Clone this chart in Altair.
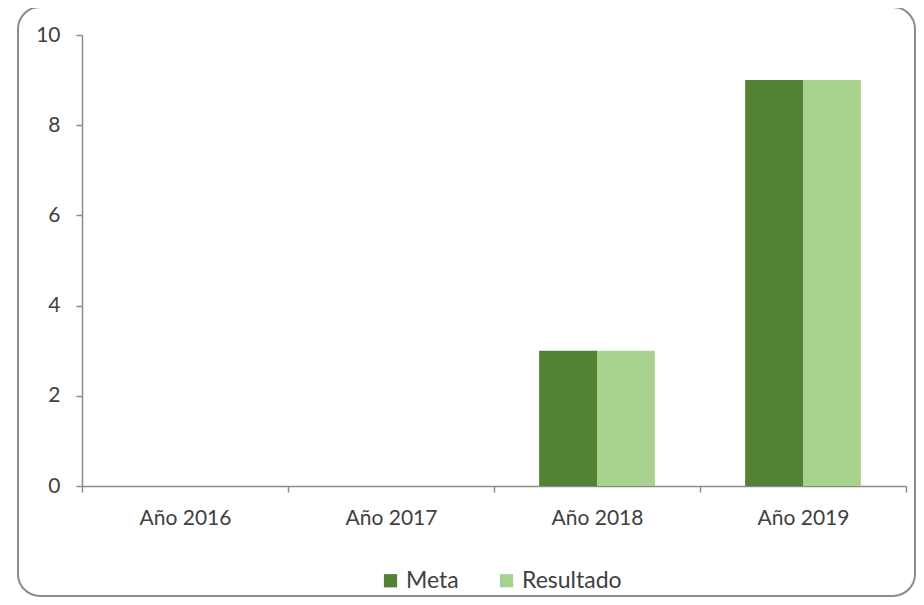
import altair as alt
import pandas as pd

years = ["Año 2016", "Año 2017", "Año 2018", "Año 2019"]
series = ["Meta", "Resultado"]
meta = [0, 0, 3, 9]
resultado = [0, 0, 3, 9]
colors = ["#548235", "#A9D18E"]

rows = []
for i, yr in enumerate(years):
    rows.append({"year": yr, "serie": "Meta", "valor": meta[i]})
    rows.append({"year": yr, "serie": "Resultado", "valor": resultado[i]})
df = pd.DataFrame(rows)

FONT = "Lato"
TXT = "#404040"
AXC = "#8c8c8c"
W, H = 824, 451

frame = alt.Chart(pd.DataFrame({"a": [0]})).mark_rect(
    fill=None, stroke="#8c8c8c", strokeWidth=2, cornerRadius=22
).encode(
    x=alt.value(-64), x2=alt.value(833), y=alt.value(-28), y2=alt.value(561)
)

bars = alt.Chart(df).mark_bar().encode(
    x=alt.X(
        "year:N",
        sort=years,
        scale=alt.Scale(paddingInner=0, paddingOuter=0),
        axis=alt.Axis(
            title=None, labelAngle=0, tickBand="extent", tickSize=6,
            labelPadding=15, labelFont=FONT, labelFontSize=21, labelColor=TXT,
            domainColor=AXC, tickColor=AXC, domainWidth=1.5, tickWidth=1.5,
        ),
    ),
    xOffset=alt.XOffset(
        "serie:N", sort=series,
        scale=alt.Scale(paddingInner=0, paddingOuter=0.78),
    ),
    y=alt.Y(
        "valor:Q",
        scale=alt.Scale(domain=[0, 10], nice=False),
        axis=alt.Axis(
            title=None, values=[0, 2, 4, 6, 8, 10], grid=False, tickSize=6,
            labelPadding=16, labelFont=FONT, labelFontSize=21, labelColor=TXT,
            domainColor=AXC, tickColor=AXC, domainWidth=1.5, tickWidth=1.5,
        ),
    ),
    color=alt.Color(
        "serie:N",
        sort=series,
        scale=alt.Scale(domain=series, range=colors),
        legend=alt.Legend(
            title=None, orient="none", direction="horizontal",
            legendX=297, legendY=534, symbolType="square", symbolSize=175,
            symbolStrokeWidth=0, labelFont=FONT, labelFontSize=23,
            labelColor=TXT, columnPadding=36, labelOffset=4,
        ),
    ),
)

chart = alt.layer(frame, bars).properties(
    width=W,
    height=H,
    autosize=alt.AutoSizeParams(type="none"),
    padding={"left": 74, "top": 27, "right": 10, "bottom": 111},
    background="white",
).configure_view(stroke=None)

chart.save("out.html", embed_options={"renderer": "svg", "actions": False})
